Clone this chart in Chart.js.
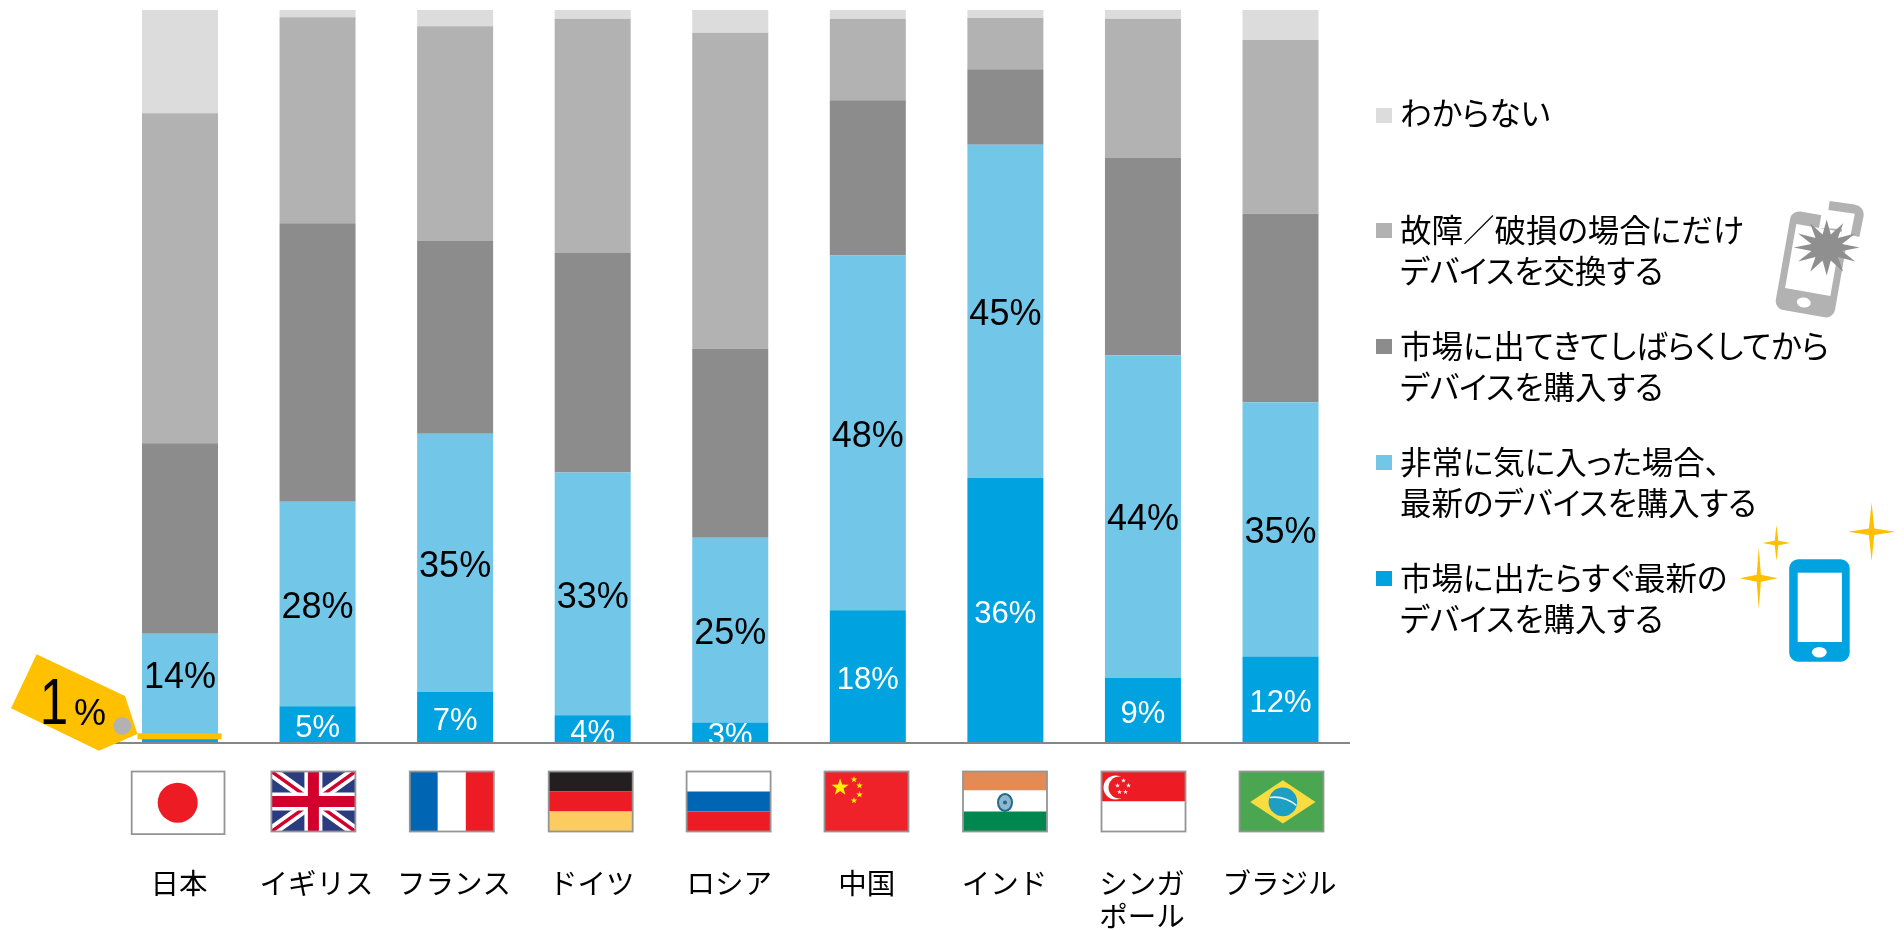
<!DOCTYPE html>
<html>
<head>
<meta charset="utf-8">
<title>デバイス購入</title>
<script src="https://cdn.jsdelivr.net/npm/chart.js@4/dist/chart.umd.min.js"></script>
<style>
  html, body { margin: 0; padding: 0; background: #fff; width: 1904px; height: 930px; overflow: hidden; }
  #chart, #art { position: absolute; left: 0; top: 0; }
  #art { pointer-events: none; }
  .legend-box { position: absolute; left: 1376px; width: 16px; height: 15px; }
  .legend-text {
    position: absolute; left: 1400px; line-height: 41px; white-space: pre;
    font-family: "Noto Sans CJK JP", sans-serif; font-size: 31.5px; color: #000;
    font-feature-settings: "palt";
  }
</style>
</head>
<body>
<canvas id="chart" width="1904" height="930"></canvas>
<svg id="art" width="1904" height="930" xmlns="http://www.w3.org/2000/svg"></svg>
<script>
const categories = ['日本', 'イギリス', 'フランス', 'ドイツ', 'ロシア', '中国', 'インド', ['シンガ', 'ポール'], 'ブラジル'];

// bottom to top
const buyAtOnce   = [1, 5.0, 7.0, 3.8, 2.8, 18.1, 36.2, 8.9, 11.8];
const buyIfLiked  = [13.9, 27.9, 35.2, 33.1, 25.2, 48.4, 45.4, 44.0, 34.7];
const buyLater    = [26, 38, 26.3, 30, 25.8, 21.2, 10.3, 26.9, 25.7];
const replaceOnly = [45, 28.1, 29.3, 31.9, 43.1, 11.1, 7.0, 19, 23.7];
const dontKnow    = [14.1, 1.0, 2.2, 1.2, 3.1, 1.2, 1.1, 1.2, 4.1];

const seriesNames = [
  '市場に出たらすぐ最新の\nデバイスを購入する',
  '非常に気に入った場合、\n最新のデバイスを購入する',
  '市場に出てきてしばらくしてから\nデバイスを購入する',
  '故障／破損の場合にだけ\nデバイスを交換する',
  'わからない'
];
const seriesColors = ['#00a3e0', '#72c7e8', '#8c8c8c', '#b2b2b2', '#dcdcdc'];
const seriesValues = [buyAtOnce, buyIfLiked, buyLater, replaceOnly, dontKnow];
const tagText = '1';

// percent labels on the two blue series
const percentLabels = {
  id: 'percentLabels',
  afterDatasetsDraw(chart) {
    const ctx = chart.ctx, area = chart.chartArea;
    ctx.save();
    ctx.beginPath();
    ctx.rect(area.left, area.top, area.right - area.left, area.bottom - area.top);
    ctx.clip();
    ctx.textAlign = 'center';
    ctx.textBaseline = 'middle';
    [0, 1].forEach(ds => {
      ctx.fillStyle = ds === 0 ? '#fff' : '#000';
      ctx.font = (ds === 0 ? 31 : 36) + 'px "Liberation Sans", Arial, sans-serif';
      chart.getDatasetMeta(ds).data.forEach((bar, i) => {
        if (ds === 0 && i === 0) return; // Japan's 1% sits on the tag
        let y = (bar.y + bar.base) / 2 + 4;
        if (ds === 1 && i === 0) y -= 11; // lifted clear of the tag's line
        ctx.fillText(Math.round(seriesValues[ds][i]) + '%', bar.x, y);
      });
    });
    ctx.restore();
  }
};

new Chart(document.getElementById('chart').getContext('2d'), {
  type: 'bar',
  data: {
    labels: categories,
    datasets: seriesValues.map((vals, i) => ({
      label: seriesNames[i].replace('\n', ''),
      data: vals,
      backgroundColor: seriesColors[i],
      borderWidth: 0,
      categoryPercentage: 0.5525,
      barPercentage: 1
    }))
  },
  options: {
    responsive: false,
    animation: false,
    devicePixelRatio: 1,
    layout: { padding: { left: 111.2, right: 554.7, top: 10, bottom: 0 } },
    plugins: { legend: { display: false }, tooltip: { enabled: false } },
    scales: {
      x: {
        stacked: true,
        afterFit: s => { s.height = 187; },
        grid: { display: false },
        border: { color: '#868686', width: 2, z: 1 },
        ticks: {
          color: '#000',
          autoSkip: false,
          maxRotation: 0,
          minRotation: 0,
          padding: 115,
          labelOffset: -1,
          font: { family: '"Noto Sans CJK JP", sans-serif', size: 28.5, lineHeight: 1.18 }
        }
      },
      y: { display: false, stacked: true, min: 0, max: 100 }
    }
  },
  plugins: [percentLabels]
});

// legend, top entry is the last series
const legendTops = [577, 461, 345, 229, 112];
seriesNames.forEach((name, i) => {
  const box = document.createElement('div');
  box.className = 'legend-box';
  box.style.top = (legendTops[i] - 6.5 + (i === 4 ? 2 : 0)) + 'px';
  box.style.background = seriesColors[i];
  document.body.appendChild(box);
  const txt = document.createElement('div');
  txt.className = 'legend-text';
  txt.style.top = (legendTops[i] - 21.5) + 'px';
  txt.textContent = name;
  document.body.appendChild(txt);
});

// flags, tag and phone pictures
function star(cx, cy, rx, ry, n, inner) {
  const pts = [];
  for (let i = 0; i < n * 2; i++) {
    const a = -Math.PI / 2 + i * Math.PI / n, k = i % 2 ? inner : 1;
    pts.push((cx + Math.cos(a) * rx * k).toFixed(1) + ',' + (cy + Math.sin(a) * ry * k).toFixed(1));
  }
  return pts.join(' ');
}
const starTag = (cx, cy, r, fill) => `<polygon points="${star(cx, cy, r, r, 5, 0.4)}" fill="${fill}"/>`;
const band = (y, h, fill) => `<rect x="0" y="${y}" width="84" height="${h}" fill="${fill}"/>`;

const flagArt = [
  `<rect width="84" height="60" fill="#fff"/>`,
  `<rect width="84" height="60" fill="#2a3b80"/>
   <path d="M0 0L84 60M84 0L0 60" stroke="#fff" stroke-width="11"/>
   <path d="M0 0L84 60M84 0L0 60" stroke="#d2002d" stroke-width="3.5"/>
   <path d="M42 0V60M0 30H84" stroke="#fff" stroke-width="18"/>
   <path d="M42 0V60M0 30H84" stroke="#d2002d" stroke-width="11"/>`,
  `<rect width="28" height="60" fill="#0066b3"/><rect x="28" width="28" height="60" fill="#fff"/><rect x="56" width="28" height="60" fill="#ed1c24"/>`,
  band(0, 20, '#231f20') + band(20, 20, '#ed1c24') + band(40, 20, '#fdcc60'),
  band(0, 20, '#fff') + band(20, 20, '#0066b3') + band(40, 20, '#ed1c24'),
  `<rect width="84" height="60" fill="#ef2229"/>` + starTag(15.6, 16, 9, '#fff200') +
    starTag(29.5, 8, 3.5, '#fff200') + starTag(35, 14, 3.5, '#fff200') + starTag(35, 23, 3.5, '#fff200') + starTag(29.5, 29, 3.5, '#fff200'),
  band(0, 19, '#e48a55') + band(19, 21, '#fff') + band(40, 20, '#00874f') +
    `<ellipse cx="42" cy="31" rx="7" ry="8.5" fill="#8fb6cb" stroke="#1e6a90" stroke-width="2"/><circle cx="42" cy="31" r="2" fill="#1e6a90"/>`,
  band(0, 30, '#ed1c24') + band(30, 30, '#fff') +
    `<circle cx="14" cy="16" r="12" fill="#fff"/><circle cx="18" cy="16" r="11" fill="#ed1c24"/>` +
    starTag(22, 9, 2.6, '#fff') + starTag(16, 14, 2.6, '#fff') + starTag(27, 14, 2.6, '#fff') + starTag(18, 20.5, 2.6, '#fff') + starTag(24, 20.5, 2.6, '#fff'),
  `<rect width="84" height="60" fill="#4aa651"/><polygon points="10.7,30.4 43.4,8.7 76,30.4 43.4,52" fill="#f9dc40"/>
   <circle cx="43.4" cy="30.4" r="14.3" fill="#1d9fc4"/><path d="M30 26Q45 24 57 34" stroke="#e8f4f4" stroke-width="1.6" fill="none"/>`
];
const flagLefts = [131.7, 271.4, 409.8, 548.7, 686.6, 824.5, 963, 1101.5, 1239.5];

let art = '';
flagArt.forEach((f, i) => {
  const w = i === 0 ? 92.8 : 84, h = i === 0 ? 62.6 : 60;
  art += `<svg x="${flagLefts[i]}" y="771.5" width="${w}" height="${h}" viewBox="0 0 ${i === 0 ? '92.8 62.6' : '84 60'}">` + f + `</svg>`;
  if (i === 0) art += `<rect x="${flagLefts[0]}" y="771.5" width="${w}" height="${h}" fill="#fff"/><circle cx="177.7" cy="802.7" r="20" fill="#ed1c24"/>`;
  art += `<rect x="${flagLefts[i]}" y="771.5" width="${w}" height="${h}" fill="none" stroke="#959595" stroke-width="1.8"/>`;
});

// price tag on Japan's column
art += `<rect x="137.5" y="733.3" width="84" height="6" fill="#ffc000"/>
  <polygon points="36.6,654.3 125,696 137.5,734 99,750.7 11,708.3" fill="#ffc000"/>
  <ellipse cx="122.3" cy="726" rx="9" ry="8.7" fill="#b2b2b2"/>
  <text transform="translate(54,724) scale(0.8,1)" text-anchor="middle" font-family="Liberation Sans, Arial, sans-serif" font-size="64">${tagText}</text>
  <text x="74" y="725" font-family="Liberation Sans, Arial, sans-serif" font-size="36">%</text>`;

// broken phone
art += `<g transform="translate(1791.7,210) rotate(10)">
    <rect x="0" y="0" width="60" height="100" rx="9" fill="#b2b2b2"/>
    <rect x="7" y="13" width="46" height="65" fill="#fff"/>
    <ellipse cx="28" cy="89" rx="7" ry="5" fill="#fff"/>
    <polygon points="30,-2 62,-2 62,30 53,30 53,10 30,13" fill="#fff"/>
  </g>
  <path d="M1829 205.5L1854 209Q1860 210 1859 216L1855 236" fill="none" stroke="#b2b2b2" stroke-width="9" stroke-linejoin="round"/>
  <polygon points="${star(1826.7, 247.5, 33, 28, 12, 0.48)}" fill="#8f8f8f"/>`;

// new phone with sparkles
art += `<rect x="1789.2" y="559.3" width="60.5" height="102.4" rx="9" fill="#00a3e0"/>
  <rect x="1797.7" y="572.7" width="44.2" height="69.3" fill="#fff"/>
  <ellipse cx="1819.3" cy="652.3" rx="7.4" ry="5.3" fill="#fff"/>
  <polygon points="${star(1871.6, 531.7, 23.5, 29.3, 4, 0.16)}" fill="#ffc000"/>
  <polygon points="${star(1776.5, 543, 14, 18, 4, 0.18)}" fill="#ffc000"/>
  <polygon points="${star(1758.8, 578.3, 19, 31, 4, 0.16)}" fill="#ffc000"/>`;

document.getElementById('art').innerHTML = art;
</script>
</body>
</html>
